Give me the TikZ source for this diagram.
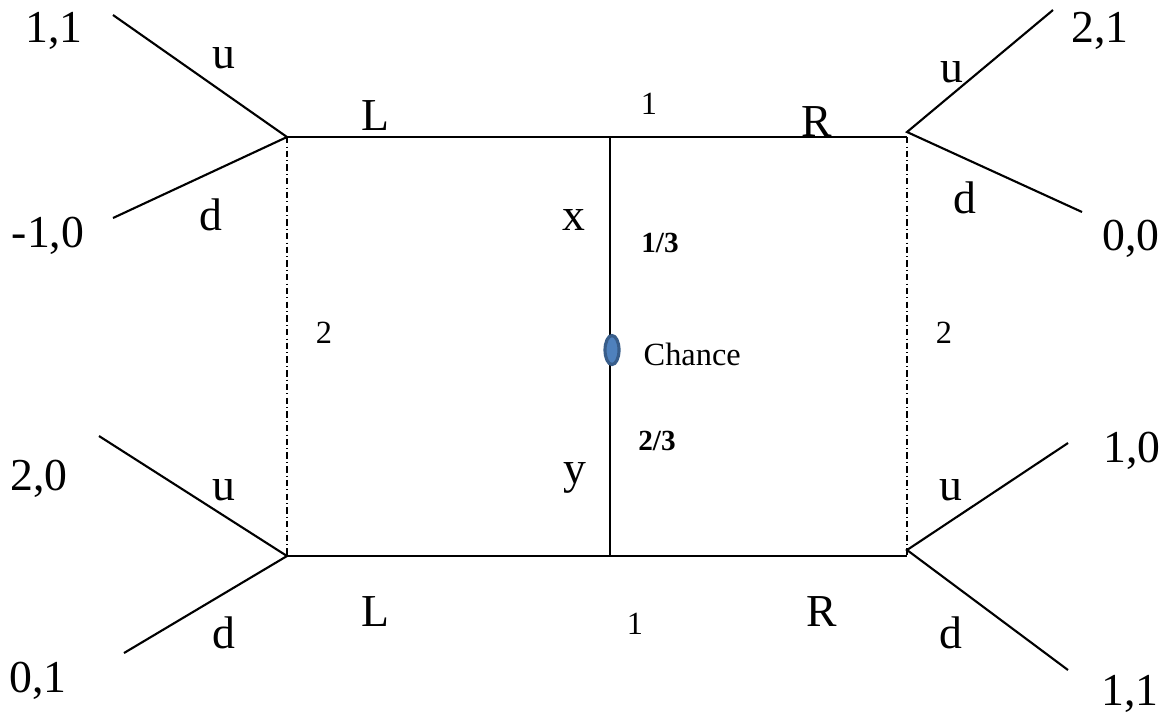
\documentclass[tikz,border=0pt]{standalone}
\usepackage{fontspec}
\setmainfont{Liberation Serif}
\usepackage{tikz}
\usetikzlibrary{shapes.geometric}
\definecolor{chanceblue}{RGB}{79,129,189}
\definecolor{chanceedge}{RGB}{56,93,138}
\tikzset{
  branch/.style={line width=0.6pt, color=black},
  infoset/.style={line width=0.35pt, color=black,
    dash pattern=on 1.8pt off 0.9pt on 0.3pt off 0.9pt},
  payoff/.style={anchor=base, inner sep=0pt, font=\fontsize{13}{15}\selectfont},
  act/.style={anchor=base, inner sep=0pt, font=\fontsize{13}{15}\selectfont},
  player/.style={anchor=base, inner sep=0pt, font=\fontsize{9.2}{11}\selectfont},
  prob/.style={anchor=base, inner sep=0pt, font=\fontsize{8.3}{10}\selectfont\bfseries},
  chancenode/.style={ellipse, draw=chanceedge, fill=chanceblue, line width=0.9pt,
    minimum width=0.14cm, minimum height=0.29cm, inner sep=0pt}
}

\begin{document}
\begin{tikzpicture}[x=0.01cm, y=-0.01cm]
  \useasboundingbox (0,0) rectangle (1165,714);

  % Decision nodes of player 1
  \coordinate (tl) at (287,137);
  \coordinate (tr) at (907,137);
  \coordinate (bl) at (287,556);
  \coordinate (br) at (907,556);
  \coordinate (ctop) at (610,137);
  \coordinate (cbot) at (610,556);
  % Apexes of player 2 branches
  \coordinate (tlx) at (287,137);
  \coordinate (trx) at (907,132);
  \coordinate (blx) at (287,556);
  \coordinate (brx) at (907,550);
  % Free ends of u / d branches
  \coordinate (tlu) at (113,15);
  \coordinate (tld) at (113,218);
  \coordinate (tru) at (1053,10);
  \coordinate (trd) at (1082,212);
  \coordinate (blu) at (99,436);
  \coordinate (bld) at (124,653);
  \coordinate (bru) at (1068,443);
  \coordinate (brd) at (1068,670);

  % Main lines
  \draw[branch] (tl) -- (tr);
  \draw[branch] (bl) -- (br);
  \draw[branch] (ctop) -- (cbot);

  % Information sets of player 2
  \draw[infoset] (tl) -- (bl);
  \draw[infoset] (tr) -- (br);

  % Player 2 branches
  \draw[branch] (tlu) -- (tlx) -- (tld);
  \draw[branch] (tru) -- (trx) -- (trd);
  \draw[branch] (blu) -- (blx) -- (bld);
  \draw[branch] (bru) -- (brx) -- (brd);

  % Chance node
  \node[chancenode] (chance) at (612,350) {};
  \node[player, anchor=base west] (chancelbl) at (643,365) {Chance};

  % Payoffs
  \node[payoff] (p1) at (54,42) {1,1};
  \node[payoff] (p2) at (48,247) {-1,0};
  \node[payoff] (p3) at (1100,42) {2,1};
  \node[payoff] (p4) at (1131,250) {0,0};
  \node[payoff] (p5) at (39,490) {2,0};
  \node[payoff] (p6) at (38,692) {0,1};
  \node[payoff] (p7) at (1132,462) {1,0};
  \node[payoff] (p8) at (1130,705) {1,1};

  % Actions
  \node[act] (u1) at (224,68) {u};
  \node[act] (d1) at (211,230) {d};
  \node[act] (u2) at (952,82) {u};
  \node[act] (d2) at (965,213) {d};
  \node[act] (u3) at (224,500) {u};
  \node[act] (d3) at (224,648) {d};
  \node[act] (u4) at (951,500) {u};
  \node[act] (d4) at (951,648) {d};
  \node[act] (lt) at (375,130) {L};
  \node[act] (rt) at (817,136) {R};
  \node[act] (lb) at (375,626) {L};
  \node[act] (rb) at (822,626) {R};
  \node[act] (xlbl) at (574,230) {x};
  \node[act] (ylbl) at (575,483) {y};

  % Players and probabilities
  \node[player] (pl1t) at (649,114) {1};
  \node[player] (pl1b) at (635,634) {1};
  \node[player] (pl2l) at (324,343) {2};
  \node[player] (pl2r) at (944,343) {2};
  \node[prob] (q1) at (660,252) {1/3};
  \node[prob] (q2) at (657,450) {2/3};
\end{tikzpicture}
\end{document}
